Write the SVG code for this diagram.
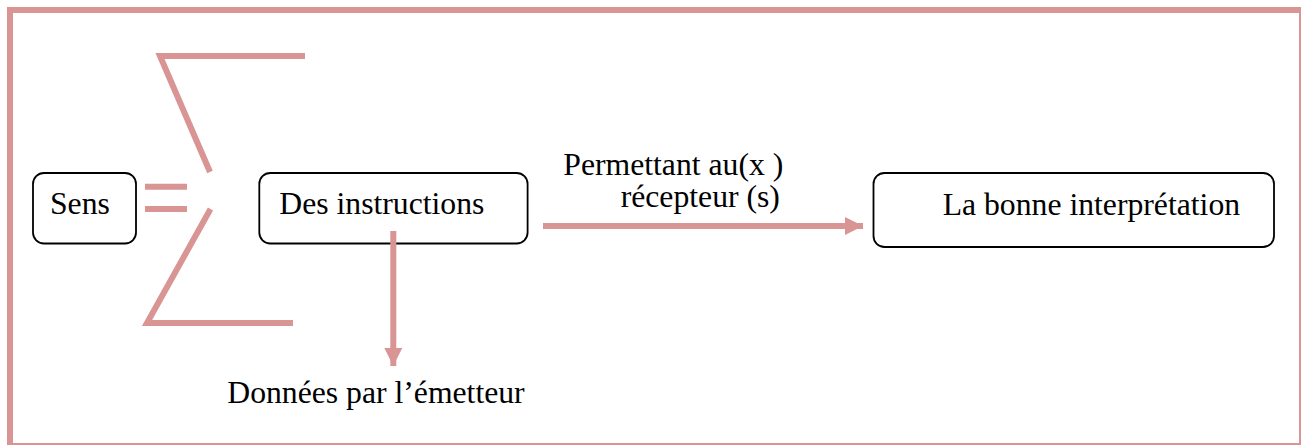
<svg xmlns="http://www.w3.org/2000/svg" width="1301" height="445" viewBox="0 0 1301 445">
<defs>
<style>
.frame{fill:none;stroke:#d99594;stroke-width:6}
.pink{fill:none;stroke:#d99594;stroke-width:6}
.box{fill:#fff;stroke:#000;stroke-width:1.8}
text{font-size:31.7px;fill:#000}
</style>
<marker id="ah" markerUnits="userSpaceOnUse" markerWidth="20" markerHeight="18" refX="18" refY="9" orient="auto">
<path d="M0,0 L18,9 L0,18 Z" fill="#d99594"/>
</marker>
</defs>
<rect width="1301" height="445" fill="#fff"/>
<rect class="frame" x="10" y="10" width="1292" height="436"/>
<g id="sigma">
<path class="pink" d="M305,56 H160 L210,172"/>
<path class="pink" d="M210.5,209 L147,323 H293"/>
</g>
<g id="equals">
<line class="pink" x1="145" y1="186.7" x2="187" y2="186.7"/>
<line class="pink" x1="145" y1="209" x2="187" y2="209"/>
</g>
<g font-family="Liberation Serif, Tinos, Times New Roman, DejaVu Serif, serif">
<g id="sens">
<rect class="box" x="33" y="173" width="103" height="70.5" rx="11"/>
<text x="50" y="214">Sens</text>
</g>
<g id="instructions">
<rect class="box" x="259.3" y="173" width="268.3" height="70.5" rx="11"/>
<text x="279.3" y="214">Des instructions</text>
</g>
<g id="interpretation">
<rect class="box" x="873.5" y="173" width="400.5" height="74" rx="11"/>
<text x="942.7" y="215">La bonne interprétation</text>
</g>
<g id="labels">
<text x="563.3" y="175">Permettant au(x )</text>
<text x="620.7" y="206.7">récepteur (s)</text>
<text x="227.3" y="403">Données par l’émetteur</text>
</g>
</g>
<g id="connectors">
<line class="pink" x1="393.3" y1="231" x2="393.3" y2="366" marker-end="url(#ah)"/>
<line class="pink" x1="543" y1="226" x2="863" y2="226" marker-end="url(#ah)"/>
</g>
</svg>
